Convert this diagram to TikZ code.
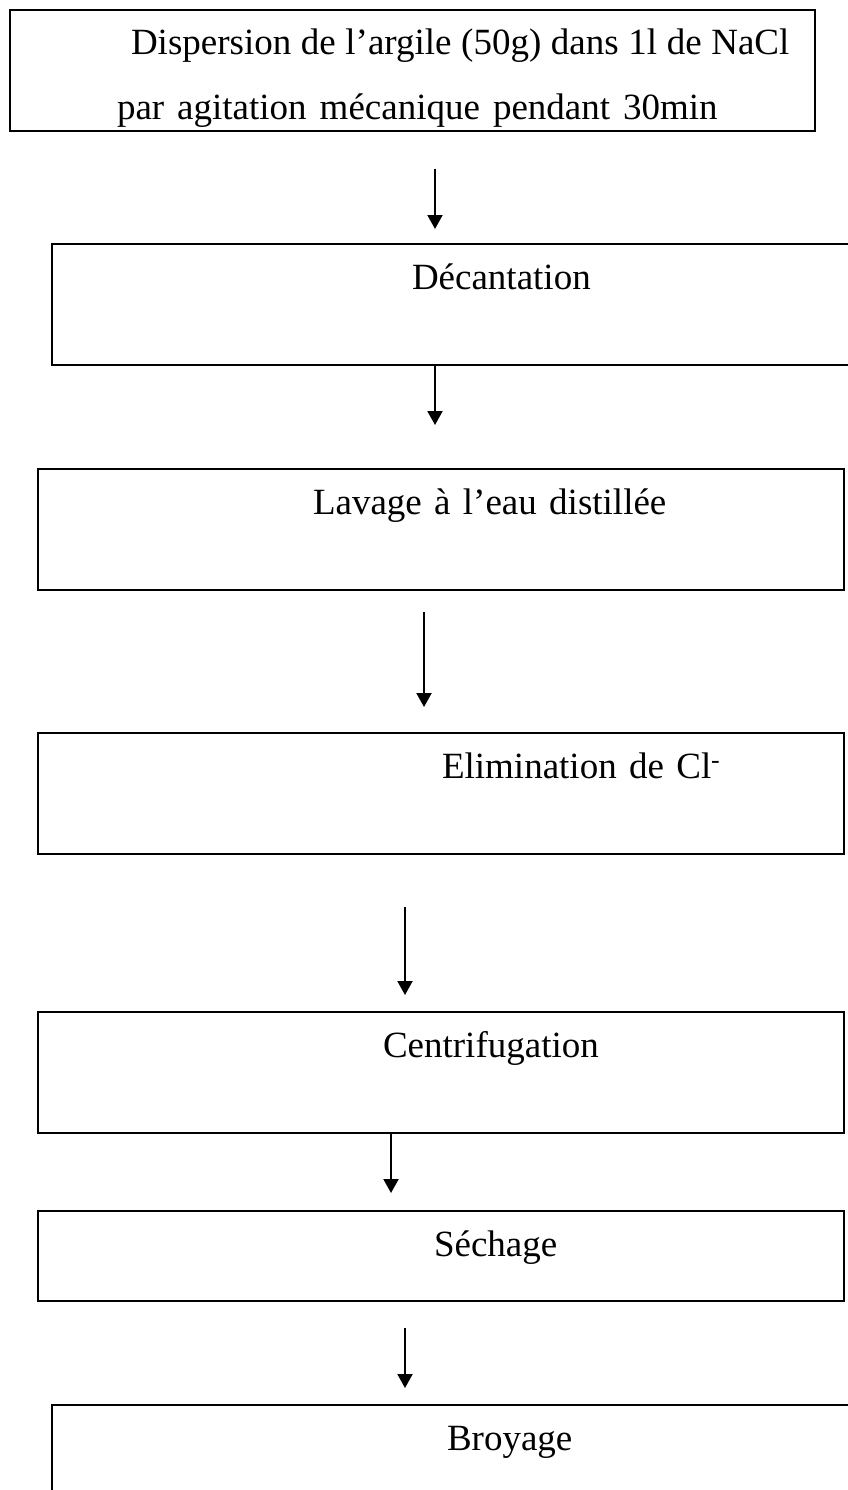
\documentclass[tikz,border=0pt]{standalone}
\usepackage{fontspec}
\setmainfont{Liberation Serif}
\usetikzlibrary{arrows.meta, positioning}

\begin{document}
\begin{tikzpicture}[node distance=100pt, font=\fontsize{37}{65}\selectfont]
  \tikzstyle{box} = [rectangle, draw, line width=2pt, inner sep=0pt, outer sep=0pt, align=left, text height=45pt, text depth=76pt]
  \tikzstyle{arrow} = [line width=2pt, -{Triangle[length=14pt, width=15pt]}]

  \useasboundingbox (0,0) rectangle (847pt,-1490pt);

  \node [box, text width=805pt, anchor=north west] (disp) at (10pt,-10pt) {\hspace*{121pt}\spaceskip=9.6pt Dispersion de l’argile (50g) dans 1l de NaCl\\ \spaceskip=13pt \hspace*{107pt}par agitation mécanique pendant 30min};
  \node [box, text width=820pt, below=113pt of disp.south west, anchor=north west, xshift=42pt] (decant) {\hspace*{360pt}Décantation};
  \node [box, text width=806pt, below=104pt of decant.south west, anchor=north west, xshift=-14pt] (lavage) {\hspace*{275pt}Lavage à l’eau distillée};
  \node [box, text width=806pt, below=143pt of lavage.south west, anchor=north west] (elim) {\hspace*{404pt}Elimination de Cl\textsuperscript{-}};
  \node [box, text width=806pt, below=158pt of elim.south west, anchor=north west] (centri) {\hspace*{345pt}Centrifugation};
  \node [box, text width=806pt, text depth=45pt, below=78pt of centri.south west, anchor=north west] (sechage) {\hspace*{396pt}Séchage};
  \node [box, text width=820pt, below=104pt of sechage.south west, anchor=north west, xshift=14pt] (broyage) {\hspace*{395pt}Broyage};

  \draw [arrow, shorten <=38pt, shorten >=15pt] (disp.south -| 435pt,0) -- (decant.north -| 435pt,0);
  \draw [arrow, shorten >=44pt] (decant.south -| 435pt,0) -- (lavage.north -| 435pt,0);
  \draw [arrow, shorten <=22pt, shorten >=26pt] (lavage.south -| 424pt,0) -- (elim.north -| 424pt,0);
  \draw [arrow, shorten <=53pt, shorten >=17pt] (elim.south -| 405pt,0) -- (centri.north -| 405pt,0);
  \draw [arrow, shorten >=18pt] (centri.south -| 391pt,0) -- (sechage.north -| 391pt,0);
  \draw [arrow, shorten <=27pt, shorten >=17pt] (sechage.south -| 405pt,0) -- (broyage.north -| 405pt,0);
\end{tikzpicture}
\end{document}
